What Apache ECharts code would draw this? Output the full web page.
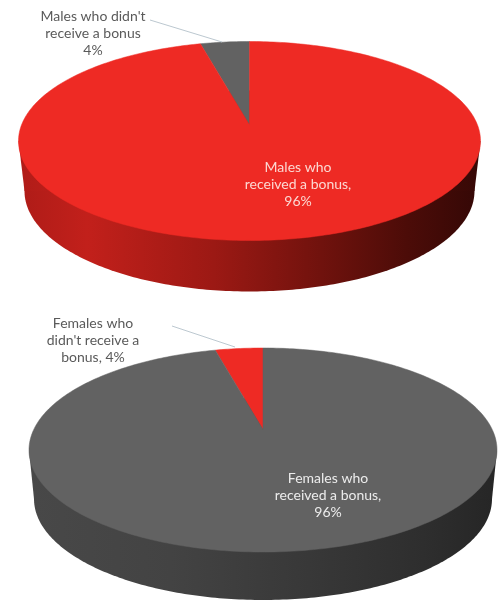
<!DOCTYPE html>
<html>
<head>
<meta charset="utf-8">
<style>html,body{margin:0;padding:0;background:#fff}#chart{width:498px;height:601px}</style>
<script src="https://cdn.jsdelivr.net/npm/echarts@6/dist/echarts.min.js"></script>
</head>
<body>
<div id="chart"></div>
<script>
// Bonus shares, drawn starting from the far edge of each disc.
const maleCategories = ['Males who didn\'t receive a bonus', 'Males who received a bonus'];
const maleValues = [4, 96];
const femaleCategories = ['Females who didn\'t receive a bonus', 'Females who received a bonus'];
const femaleValues = [4, 96];

const RED = '#ee2a24';
const GREY = '#626262';

// Page layout of the two tilted discs.
const discs = [
  {
    cx: 249.5, cy: 141, rx: 231, ry: 99.5, tilt: -0.16,
    base: { cx: 249.5, cy: 191, rx: 225, ry: 100.5 },
    categories: maleCategories, values: maleValues,
    colors: [GREY, RED],
    wall: [[0, '#b01c18'], [0.14, '#c2201b'], [0.42, '#9c1914'], [0.66, '#70120d'], [0.85, '#4c0c08'], [1, '#360806']],
    outer: { text: 'Males who didn\'t\nreceive a bonus\n4%', x: 93, y: 33 },
    inner: { text: 'Males who\nreceived a bonus,\n96%', x: 298, y: 184 },
    innerColor: '#fcd8d2',
    leader: [[150, 20], [222, 42]]
  },
  {
    cx: 263, cy: 450, rx: 234, ry: 102, tilt: -0.2,
    base: { cx: 263, cy: 499, rx: 229, ry: 101 },
    categories: femaleCategories, values: femaleValues,
    colors: [RED, GREY],
    wall: [[0, '#484848'], [0.3, '#434343'], [0.6, '#383838'], [0.85, '#2e2e2e'], [1, '#262626']],
    outer: { text: 'Females who\ndidn\'t receive a\nbonus, 4%', x: 93, y: 340 },
    inner: { text: 'Females who\nreceived a bonus,\n96%', x: 328, y: 495 },
    innerColor: '#ececec',
    leader: [[172, 326], [235, 347]]
  }
];

// Perspective projection of a unit-circle point on to the disc's ellipse;
// it keeps the rim elliptical while pulling the hub towards the far edge.
function project(d, x, t) {
  const w = 1 + d.tilt * t;
  return [
    d.cx + d.rx * x * Math.sqrt(1 - d.tilt * d.tilt) / w,
    d.cy + d.ry * (t + d.tilt) / w
  ];
}

// A share becomes a hub-and-rim polygon; angles run anticlockwise from the
// far edge, so the first share sits just left of twelve o'clock.
function slicePoints(d, startShare, endShare) {
  const pts = [project(d, 0, 0)];
  const steps = Math.max(2, Math.ceil((endShare - startShare) * 360));
  for (let i = 0; i <= steps; i++) {
    const a = 2 * Math.PI * (startShare + (endShare - startShare) * i / steps);
    pts.push(project(d, -Math.sin(a), -Math.cos(a)));
  }
  return pts;
}

function ellipsePoints(b) {
  const pts = [];
  for (let i = 0; i < 360; i++) {
    const a = i * Math.PI / 180;
    pts.push([b.cx + b.rx * Math.cos(a), b.cy + b.ry * Math.sin(a)]);
  }
  return pts;
}

function label(cfg, color) {
  return {
    type: 'text',
    silent: true,
    style: {
      text: cfg.text, x: cfg.x, y: cfg.y,
      align: 'center', verticalAlign: 'middle',
      fill: color, lineHeight: 17,
      font: '14px Lato, "Open Sans", sans-serif'
    }
  };
}

function discSeries(d) {
  const total = d.values.reduce((s, v) => s + v, 0);
  return {
    type: 'custom',
    coordinateSystem: 'none',
    silent: true,
    data: d.values.map((v, i) => ({ name: d.categories[i], value: [i, v] })),
    renderItem(params, api) {
      const i = api.value(0);
      const children = [];
      const share = api.value(1) / total;
      let before = 0;
      for (let j = 0; j < i; j++) before += d.values[j] / total;

      if (i === 0) {
        // Side wall: base ellipse plus the band joining it to the top rim.
        const left = d.cx - d.rx;
        const right = d.cx + d.rx;
        const fill = new echarts.graphic.LinearGradient(0, 0, 1, 0,
          d.wall.map(s => ({ offset: s[0], color: s[1] })));
        children.push({
          type: 'polygon',
          shape: { points: ellipsePoints(d.base) },
          style: { fill }
        });
        children.push({
          type: 'polygon',
          shape: { points: [[left, d.cy], [right, d.cy], [d.base.cx + d.base.rx, d.base.cy], [d.base.cx - d.base.rx, d.base.cy]] },
          style: { fill }
        });
      }

      children.push({
        type: 'polygon',
        shape: { points: slicePoints(d, before, before + share) },
        style: { fill: d.colors[i], stroke: d.colors[i], lineWidth: 0.5 }
      });

      if (i === 1) {
        // Labels and the leader line go on top of both slices.
        children.push({
          type: 'line',
          shape: { x1: d.leader[0][0], y1: d.leader[0][1], x2: d.leader[1][0], y2: d.leader[1][1] },
          style: { stroke: '#bcc8d0', lineWidth: 1 }
        });
        children.push(label(d.outer, '#5a5a5a'));
        children.push(label(d.inner, d.innerColor));
      }
      return { type: 'group', children };
    }
  };
}

const chart = echarts.init(document.getElementById('chart'), null, { renderer: 'canvas' });

chart.setOption({
  animation: false,
  backgroundColor: '#ffffff',
  series: discs.map(discSeries)
});
</script>
</body>
</html>
